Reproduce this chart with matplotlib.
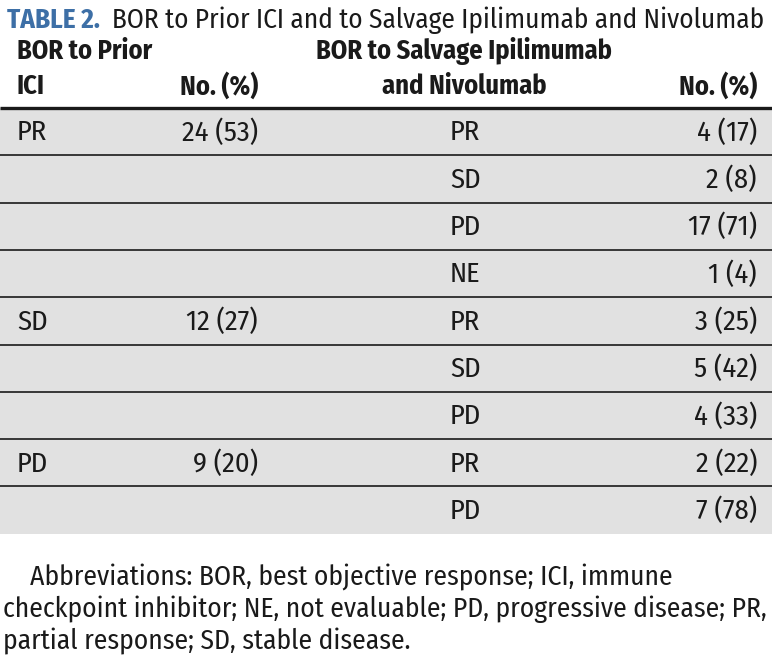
import matplotlib.pyplot as plt
from matplotlib.patches import Rectangle

# table content
prior_bor = ["PR", "", "", "", "SD", "", "", "PD", ""]
prior_n = ["24 (53)", "", "", "", "12 (27)", "", "", "9 (20)", ""]
salvage_bor = ["PR", "SD", "PD", "NE", "PR", "SD", "PD", "PR", "PD"]
salvage_n = ["4 (17)", "2 (8)", "17 (71)", "1 (4)", "3 (25)", "5 (42)", "4 (33)", "2 (22)", "7 (78)"]

title_label = "TABLE 2."
title_text = "BOR to Prior ICI and to Salvage Ipilimumab and Nivolumab"
footnote = ["Abbreviations: BOR, best objective response; ICI, immune",
            "checkpoint inhibitor; NE, not evaluable; PD, progressive disease; PR,",
            "partial response; SD, stable disease."]

plt.rcParams["font.family"] = ["Fira Sans Condensed", "DejaVu Sans"]

W, H = 772, 666
fig = plt.figure(figsize=(W / 100, H / 100), dpi=100)
ax = fig.add_axes([0, 0, 1, 1])
ax.set_xlim(0, W)
ax.set_ylim(H, 0)
ax.axis("off")

blue = "#3d6fa6"
ink = "#1a1a1a"
fs = 20.5

# title
ax.text(7, 20, title_label, fontsize=19.5, fontweight="bold", color=blue, va="center")
ax.text(112, 20, title_text, fontsize=19.6, color=ink, va="center")

# header
hfs = 19
ax.text(17, 51, "BOR to Prior", fontsize=hfs, fontweight="bold", color=ink, va="center")
ax.text(17, 86, "ICI", fontsize=hfs, fontweight="bold", color=ink, va="center")
ax.text(258, 86, "No. (%)", fontsize=hfs, fontweight="bold", color=ink, va="center", ha="right")
ax.text(464, 51, "BOR to Salvage Ipilimumab", fontsize=hfs, fontweight="bold", color=ink,
        va="center", ha="center")
ax.text(464, 86, "and Nivolumab", fontsize=hfs, fontweight="bold", color=ink, va="center", ha="center")
ax.text(757, 86, "No. (%)", fontsize=hfs, fontweight="bold", color=ink, va="center", ha="right")

# body
top = 108
row_h = 47.3
n = len(salvage_bor)
ax.add_patch(Rectangle((0, top), W, row_h * n, facecolor="#e1e1e1", edgecolor="none"))
ax.plot([0, W], [top, top], color=ink, lw=2.4, solid_capstyle="butt")
for i in range(n):
    yc = top + row_h * i + row_h / 2 + 1
    ax.text(17, yc, prior_bor[i], fontsize=fs, color=ink, va="center")
    ax.text(258, yc, prior_n[i], fontsize=fs, color=ink, va="center", ha="right")
    ax.text(450, yc, salvage_bor[i], fontsize=fs, color=ink, va="center")
    ax.text(757, yc, salvage_n[i], fontsize=fs, color=ink, va="center", ha="right")
    if i > 0:
        y = top + row_h * i
        ax.plot([0, W], [y, y], color=ink, lw=1.2, solid_capstyle="butt")

# footnote
ffs = 19.8
ax.text(30, 577, footnote[0], fontsize=ffs, color=ink, va="center")
ax.text(3, 609, footnote[1], fontsize=ffs, color=ink, va="center")
ax.text(3, 641, footnote[2], fontsize=ffs, color=ink, va="center")

fig.savefig("out.png", dpi=100)
